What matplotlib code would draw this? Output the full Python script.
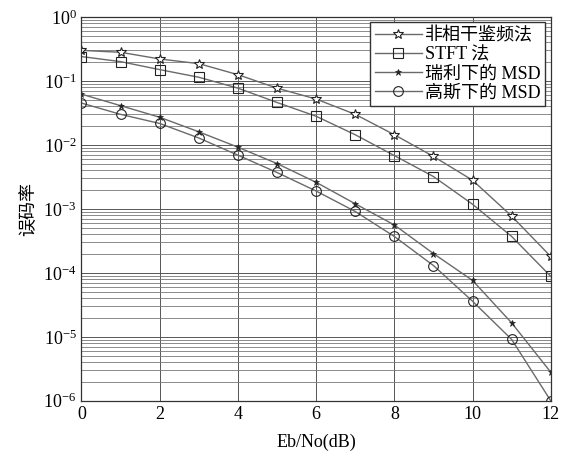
import numpy as np
import matplotlib
matplotlib.use("Agg")
import matplotlib.pyplot as plt
from matplotlib.ticker import LogLocator, FixedLocator

plt.rcParams["font.family"] = ["Liberation Serif", "Noto Sans CJK SC"]
plt.rcParams["mathtext.fontset"] = "stix"

# ─── Data ────────────────────────────────────────────────────────────────────
ebno = [0, 1, 2, 3, 4, 5, 6, 7, 8, 9, 10, 11, 12]

ber_noncoherent = [0.30, 0.28, 0.22, 0.186, 0.125, 0.077, 0.052, 0.030,
                   0.0144, 0.0066, 0.0028, 0.00077, 0.00018]
ber_stft = [0.24, 0.20, 0.15, 0.114, 0.077, 0.046, 0.028, 0.0144,
            0.0068, 0.0032, 0.00118, 0.00037, 0.000088]
ber_msd_rayleigh = [0.062, 0.041, 0.027, 0.016, 0.0092, 0.0051, 0.0026, 0.0012,
                    0.00056, 0.0002, 0.000076, 0.0000165, 0.0000028]
ber_msd_gauss = [0.045, 0.030, 0.0216, 0.0128, 0.0069, 0.0037, 0.0019, 0.00091,
                 0.00037, 0.00013, 0.000036, 0.0000091, 0.000001]

labels = ["非相干鉴频法", "STFT 法", "瑞利下的 MSD", "高斯下的 MSD"]
x_ticks = [0, 2, 4, 6, 8, 10, 12]

# ─── Plot ────────────────────────────────────────────────────────────────────
fig = plt.figure(figsize=(5.62, 4.57), dpi=100)
ax = fig.add_axes([0.145, 0.123, 0.835, 0.84])

line_kw = dict(color="#6a6a6a", linewidth=1.0, markeredgecolor="#222222")
ax.plot(ebno, ber_noncoherent, marker="*", markersize=7, markerfacecolor="white",
        markeredgewidth=0.8, label=labels[0], **line_kw)
ax.plot(ebno, ber_stft, marker="s", markersize=7, markerfacecolor="none",
        markeredgewidth=0.8, label=labels[1], **line_kw)
ax.plot(ebno, ber_msd_rayleigh, marker="*", markersize=5, markerfacecolor="#222222",
        markeredgewidth=0.5, label=labels[2], **line_kw)
ax.plot(ebno, ber_msd_gauss, marker="o", markersize=7, markerfacecolor="none",
        markeredgewidth=0.8, label=labels[3], **line_kw)

ax.set_yscale("log")
ax.set_xlim(0, 12)
ax.set_ylim(1e-6, 1)
ax.xaxis.set_major_locator(FixedLocator(x_ticks))
ax.yaxis.set_major_locator(LogLocator(base=10, numticks=10))
ax.yaxis.set_minor_locator(LogLocator(base=10, subs=np.arange(2, 10), numticks=20))

ax.grid(True, which="major", color="#555555", linewidth=0.7)
ax.grid(True, which="minor", axis="y", color="#777777", linewidth=0.6)
ax.tick_params(which="both", direction="in", labelsize=13, length=0)
for sp in ax.spines.values():
    sp.set_color("#333333")
    sp.set_linewidth(0.9)

ax.set_xlabel("Eb/No(dB)", fontsize=13, labelpad=8)
ax.set_ylabel("误码率", fontsize=13)

ax.legend(loc="upper right", fontsize=13, frameon=True, fancybox=False,
          edgecolor="#333333", framealpha=1, borderpad=0.25, labelspacing=0.12,
          handlelength=2.6, handletextpad=0.2, borderaxespad=0.3)

fig.savefig("out.png", dpi=100)
